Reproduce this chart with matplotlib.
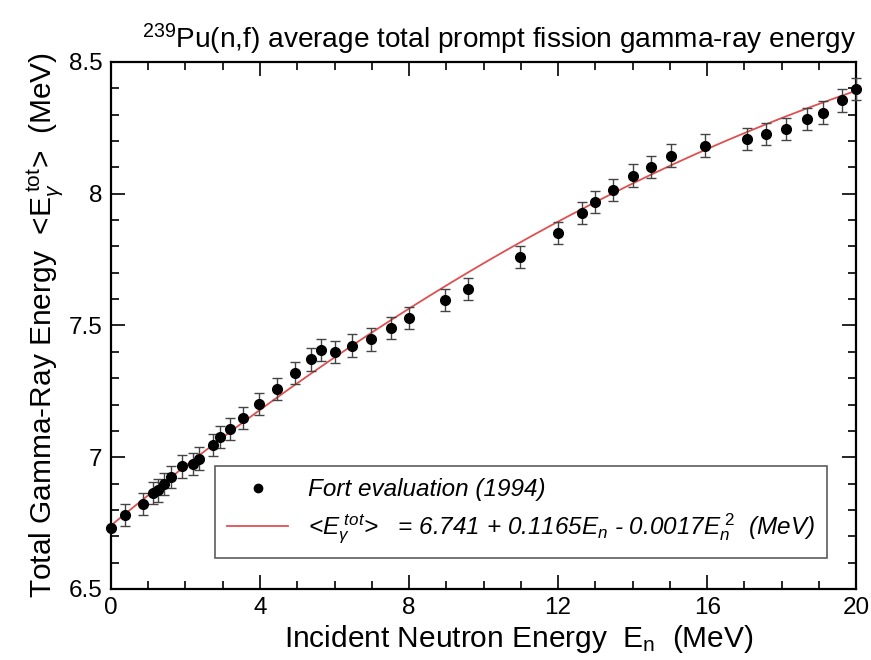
import numpy as np
import matplotlib.pyplot as plt
from matplotlib.ticker import MultipleLocator, FormatStrFormatter

plt.rcParams['font.family'] = ['Liberation Sans', 'DejaVu Sans']
plt.rcParams['mathtext.fontset'] = 'custom'
plt.rcParams['mathtext.rm'] = 'Liberation Sans'
plt.rcParams['mathtext.it'] = 'Liberation Sans:italic'

# Fort evaluation (1994)
energy = [0.0, 0.38, 0.87, 1.13, 1.25, 1.43, 1.60, 1.90, 2.21, 2.37, 2.73, 2.93,
          3.19, 3.55, 3.98, 4.46, 4.95, 5.36, 5.64, 6.01, 6.46, 6.98, 7.52, 8.0,
          8.97, 9.59, 10.99, 12.01, 12.65, 12.99, 13.47, 14.0, 14.49, 15.03,
          15.93, 17.06, 17.58, 18.11, 18.68, 19.10, 19.63, 20.0]
egamma = [6.730, 6.781, 6.823, 6.864, 6.874, 6.900, 6.925, 6.965, 6.973, 6.995,
          7.045, 7.077, 7.106, 7.150, 7.201, 7.258, 7.321, 7.371, 7.406, 7.399,
          7.424, 7.447, 7.491, 7.529, 7.598, 7.639, 7.761, 7.851, 7.927, 7.967,
          8.015, 8.069, 8.103, 8.145, 8.183, 8.208, 8.227, 8.245, 8.284, 8.308,
          8.354, 8.396]
err = [0.0] + [0.042] * (len(energy) - 1)

# fit coefficients
c0, c1, c2 = 6.741, 0.1165, -0.0017

fig = plt.figure(figsize=(8.71, 6.6), dpi=100)
ax = fig.add_axes([0.1274, 0.1076, 0.8556, 0.7985])

en = np.linspace(0, 20, 300)
ax.plot(en, c0 + c1 * en + c2 * en**2, color='#e05050', lw=1.3, zorder=2,
        label=r'<$E_{\gamma}^{\;tot}$>   = 6.741 + 0.1165$E_n$ - 0.0017$E_n^{\;2}$  (MeV)')
ax.errorbar(energy, egamma, yerr=err, fmt='none', ecolor='#444444', elinewidth=1.0,
            capsize=3.5, capthick=1.0, zorder=3, clip_on=False)
ax.plot(energy, egamma, 'o', color='black', ms=7, zorder=4, clip_on=False,
        label='Fort evaluation (1994)')

ax.set_xlim(0, 20)
ax.set_ylim(6.5, 8.5)
ax.xaxis.set_major_locator(MultipleLocator(4))
ax.xaxis.set_minor_locator(MultipleLocator(1))
ax.yaxis.set_major_locator(MultipleLocator(0.5))
ax.yaxis.set_minor_locator(MultipleLocator(0.1))
ax.yaxis.set_major_formatter(FormatStrFormatter('%g'))
ax.tick_params(which='both', direction='in', top=True, right=True, labelsize=17.5, width=1.2)
ax.tick_params(which='major', length=10, pad=6)
ax.tick_params(which='minor', length=6)
for s in ax.spines.values():
    s.set_linewidth(1.6)

ax.set_xlabel(r'Incident Neutron Energy  $\mathrm{E}_\mathrm{n}$  (MeV)', fontsize=21.5, labelpad=1)
ax.xaxis.set_label_coords(0.547, -0.065)
ax.set_ylabel(r'Total Gamma-Ray Energy  <$\mathrm{E}_{\gamma}^{\;\mathrm{tot}}$>  (MeV)', fontsize=21.5, labelpad=3)
ax.set_title(r'$^{239}$Pu(n,f) average total prompt fission gamma-ray energy', fontsize=20.2,
             loc='right', pad=10)

handles, labels = ax.get_legend_handles_labels()
leg = ax.legend(handles[::-1], labels[::-1], loc='lower left', bbox_to_anchor=(0.140, 0.058),
                prop={'style': 'italic', 'size': 17.5}, frameon=True, fancybox=False,
                edgecolor='#333333', handlelength=2.5, borderpad=0.5, labelspacing=0.45,
                handletextpad=0.8, borderaxespad=0)
leg.get_frame().set_linewidth(1.2)
for h in leg.legend_handles:
    if hasattr(h, 'set_markersize'):
        h.set_markersize(6)

fig.savefig('out.png', dpi=100)
